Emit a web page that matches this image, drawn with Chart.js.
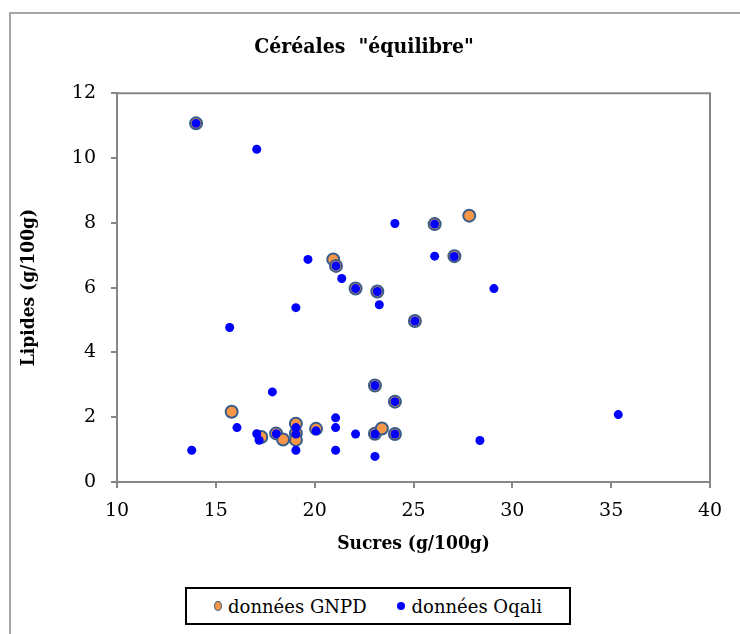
<!DOCTYPE html>
<html>
<head>
<meta charset="utf-8">
<script src="https://cdn.jsdelivr.net/npm/chart.js@4.4.1/dist/chart.umd.min.js"></script>
<style>
  html, body { margin: 0; padding: 0; background: #fff; overflow: hidden; }
  #wrap { position: relative; width: 740px; height: 634px; }
  #cadre { position: absolute; left: 9px; top: 12px; width: 800px; height: 700px; border: 2px solid #a6a6a6; box-sizing: border-box; }
  #graphique { position: absolute; left: 0; top: 0; }
  #legende {
    position: absolute; left: 185px; top: 587px; width: 386px; height: 38px;
    border: 2px solid #000; box-sizing: border-box; background: #fff;
    font-family: "DejaVu Serif", "Liberation Serif", serif; font-size: 18px; color: #000;
    display: flex; align-items: center; justify-content: center; gap: 0;
  }
  .item { display: flex; align-items: center; }
  .m-gnpd { display: inline-block; width: 6px; height: 8px; border-radius: 50%; background: #F79646; border: 1.5px solid #385D8A; margin-right: 6px; }
  .m-oqali { display: inline-block; width: 8px; height: 8px; border-radius: 50%; background: #0000FF; margin-right: 7px; margin-left: 30px; }
</style>
</head>
<body>
<div id="wrap">
  <div id="cadre"></div>
  <canvas id="graphique" width="740" height="634"></canvas>
  <div id="legende">
    <span class="item"><span class="m-gnpd"></span>données GNPD</span>
    <span class="item"><span class="m-oqali"></span>données Oqali</span>
  </div>
</div>
<script>
// données
const sucresGNPD  = [14.0, 20.94, 21.08, 26.07, 27.82, 27.07, 22.07, 23.17, 25.07, 15.8, 17.3, 18.05, 18.4, 19.05, 19.05, 19.05, 20.07, 23.05, 24.06, 23.05, 23.4, 24.06];
const lipidesGNPD = [11.07, 6.87, 6.67, 7.96, 8.22, 6.97, 5.97, 5.88, 4.97, 2.17, 1.39, 1.5, 1.31, 1.8, 1.5, 1.3, 1.64, 2.98, 2.48, 1.49, 1.65, 1.48];

const sucresOqali  = [14.0, 17.07, 24.06, 19.66, 21.08, 21.37, 26.07, 26.07, 27.06, 29.07, 25.07, 22.07, 23.17, 23.27, 19.05, 15.7, 17.86, 35.36, 28.36, 13.78, 16.07, 17.07, 17.19, 18.06, 19.05, 19.05, 19.05, 20.07, 21.06, 21.06, 21.06, 22.07, 23.05, 24.06, 23.05, 24.06, 23.05];
const lipidesOqali = [11.07, 10.27, 7.98, 6.87, 6.67, 6.28, 7.96, 6.97, 6.96, 5.97, 4.97, 5.97, 5.88, 5.47, 5.38, 4.77, 2.78, 2.08, 1.28, 0.98, 1.68, 1.49, 1.29, 1.49, 1.68, 1.48, 0.98, 1.58, 1.98, 1.68, 0.98, 1.48, 2.98, 2.48, 1.48, 1.48, 0.79];

const xTicks = [10, 15, 20, 25, 30, 35, 40];
const yTicks = [0, 2, 4, 6, 8, 10, 12];

const gris = '#868686';
const police = '"DejaVu Serif", "Liberation Serif", serif';
const policeGras = '"DejaVu Serif Condensed", "DejaVu Serif", "Liberation Serif", serif';

// cadre de la zone de tracé (haut et droite)
const cadrePlugin = {
  id: 'cadreZone',
  afterDatasetsDraw(chart) {
    const { ctx, chartArea: a } = chart;
    ctx.save();
    ctx.strokeStyle = gris;
    ctx.lineWidth = 2;
    ctx.beginPath();
    ctx.moveTo(a.left, a.top);
    ctx.lineTo(a.right, a.top);
    ctx.lineTo(a.right, a.bottom);
    ctx.stroke();
    ctx.restore();
  }
};

new Chart(document.getElementById('graphique'), {
  type: 'scatter',
  data: {
    datasets: [
      {
        label: 'données Oqali',
        data: sucresOqali.map((x, i) => ({ x: x, y: lipidesOqali[i] })),
        backgroundColor: '#0000FF',
        borderWidth: 0,
        pointRadius: 4.5,
        order: 0
      },
      {
        label: 'données GNPD',
        data: sucresGNPD.map((x, i) => ({ x: x, y: lipidesGNPD[i] })),
        backgroundColor: '#F79646',
        borderColor: '#385D8A',
        borderWidth: 2,
        pointRadius: 6,
        order: 1
      }
    ]
  },
  options: {
    responsive: false,
    animation: false,
    devicePixelRatio: 1,
    layout: { padding: { left: 18, right: 30, top: 0, bottom: 0 } },
    plugins: {
      legend: { display: false },
      tooltip: { enabled: false },
      title: {
        display: true,
        text: 'Céréales  "équilibre"',
        color: '#000',
        font: { family: policeGras, size: 21, weight: 'bold' },
        padding: { top: 35, bottom: 33 }
      }
    },
    scales: {
      x: {
        type: 'linear',
        min: 10, max: 40,
        afterBuildTicks: s => { s.ticks = xTicks.map(v => ({ value: v })); },
        afterFit: s => { s.height = 152; },
        grid: { drawOnChartArea: false, drawTicks: true, tickLength: 6, color: gris, lineWidth: 2 },
        border: { color: gris, width: 2 },
        ticks: { color: '#000', font: { family: police, size: 19 }, padding: 12 },
        title: {
          display: true, text: 'Sucres (g/100g)', color: '#000',
          font: { family: policeGras, size: 19, weight: 'bold' },
          padding: { top: 0, bottom: 79 }
        }
      },
      y: {
        type: 'linear',
        min: 0, max: 12,
        afterBuildTicks: s => { s.ticks = yTicks.map(v => ({ value: v })); },
        afterFit: s => { s.width = 99; },
        grid: { drawOnChartArea: false, drawTicks: true, tickLength: 6, color: gris, lineWidth: 2 },
        border: { color: gris, width: 2 },
        ticks: { color: '#000', font: { family: police, size: 19 }, padding: 15 },
        title: {
          display: true, text: 'Lipides (g/100g)', color: '#000',
          font: { family: policeGras, size: 19, weight: 'bold' },
          padding: { top: 0, bottom: 0 }
        }
      }
    }
  },
  plugins: [cadrePlugin]
});
</script>
</body>
</html>
